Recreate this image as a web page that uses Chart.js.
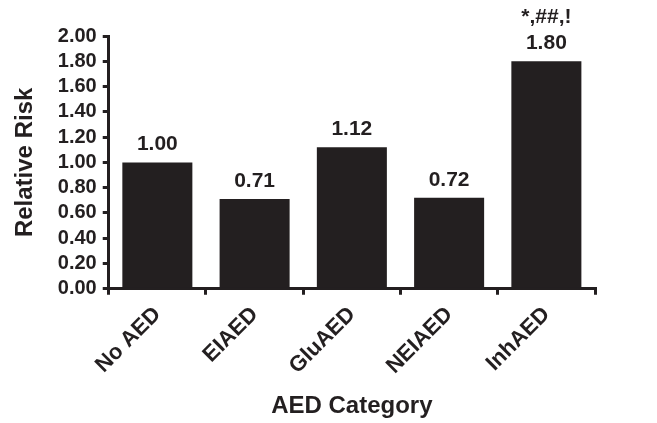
<!DOCTYPE html>
<html>
<head>
<meta charset="utf-8">
<script src="https://cdn.jsdelivr.net/npm/chart.js@4.4.0/dist/chart.umd.min.js"></script>
<style>
  html, body { margin: 0; padding: 0; background: #fff; }
  #box { width: 657px; height: 423px; }
</style>
</head>
<body>
<div id="box"><canvas id="myChart"></canvas></div>
<script>
var categorias = ['No AED', 'EIAED', 'GluAED', 'NEIAED', 'InhAED']
var riscos = [1.00, 0.71, 1.12, 0.72, 1.80]
var marcas = ['', '', '', '', '*,##,!']
var ticksY = [0, 0.2, 0.4, 0.6, 0.8, 1.0, 1.2, 1.4, 1.6, 1.8, 2.0]

var cor = '#231f20'
var fonte = '"Liberation Sans", Arial, sans-serif'

// escreve o valor (e a marca de significancia) em cima de cada barra
const rotulos = {
    id: 'rotulos',
    afterDatasetsDraw(chart) {
        const ctx = chart.ctx
        const meta = chart.getDatasetMeta(0)
        ctx.save()
        ctx.fillStyle = cor
        ctx.font = 'bold 21px ' + fonte
        ctx.textAlign = 'center'
        ctx.textBaseline = 'alphabetic'
        meta.data.forEach(function(barra, i){
            ctx.fillText(riscos[i].toFixed(2), barra.x, barra.y - 12)
            if (marcas[i]) {
                ctx.fillText(marcas[i], barra.x, barra.y - 38)
            }
        })
        ctx.restore()
    }
}

const ctx = document.getElementById('myChart')
new Chart(ctx, {
    type: 'bar',
    data: {
        labels: categorias,
        datasets: [{
            label: 'Relative Risk',
            backgroundColor: cor,
            data: riscos,
            barPercentage: 0.72,
            categoryPercentage: 1
        }]
    },
    options: {
        responsive: true,
        maintainAspectRatio: false,
        animation: false,
        layout: { padding: { top: 36, right: 62, bottom: 2, left: 11 } },
        plugins: {
            legend: { display: false },
            tooltip: { enabled: false }
        },
        scales: {
            x: {
                grid: { display: true, drawOnChartArea: false, drawTicks: true, tickLength: 6, color: cor, lineWidth: 3, offset: true },
                border: { display: true, color: cor, width: 3 },
                ticks: {
                    color: cor,
                    font: { family: fonte, weight: 'bold', size: 22 },
                    minRotation: 45,
                    maxRotation: 45,
                    padding: 7
                },
                title: {
                    display: true,
                    text: 'AED Category',
                    color: cor,
                    font: { family: fonte, weight: 'bold', size: 24 },
                    padding: { top: 6, bottom: 0 }
                }
            },
            y: {
                min: 0,
                max: 2,
                afterBuildTicks: function(axis){
                    axis.ticks = ticksY.map(function(v){ return { value: v } })
                },
                grid: { display: true, drawOnChartArea: false, drawTicks: true, tickLength: 6, color: cor, lineWidth: 3 },
                border: { display: true, color: cor, width: 3 },
                ticks: {
                    color: cor,
                    autoSkip: false,
                    font: { family: fonte, weight: 'bold', size: 20 },
                    padding: 6,
                    callback: function(v){ return Number(v).toFixed(2) }
                },
                title: {
                    display: true,
                    text: 'Relative Risk',
                    color: cor,
                    font: { family: fonte, weight: 'bold', size: 24 },
                    padding: { top: 0, bottom: 12 }
                }
            }
        }
    },
    plugins: [rotulos]
})
</script>
</body>
</html>
